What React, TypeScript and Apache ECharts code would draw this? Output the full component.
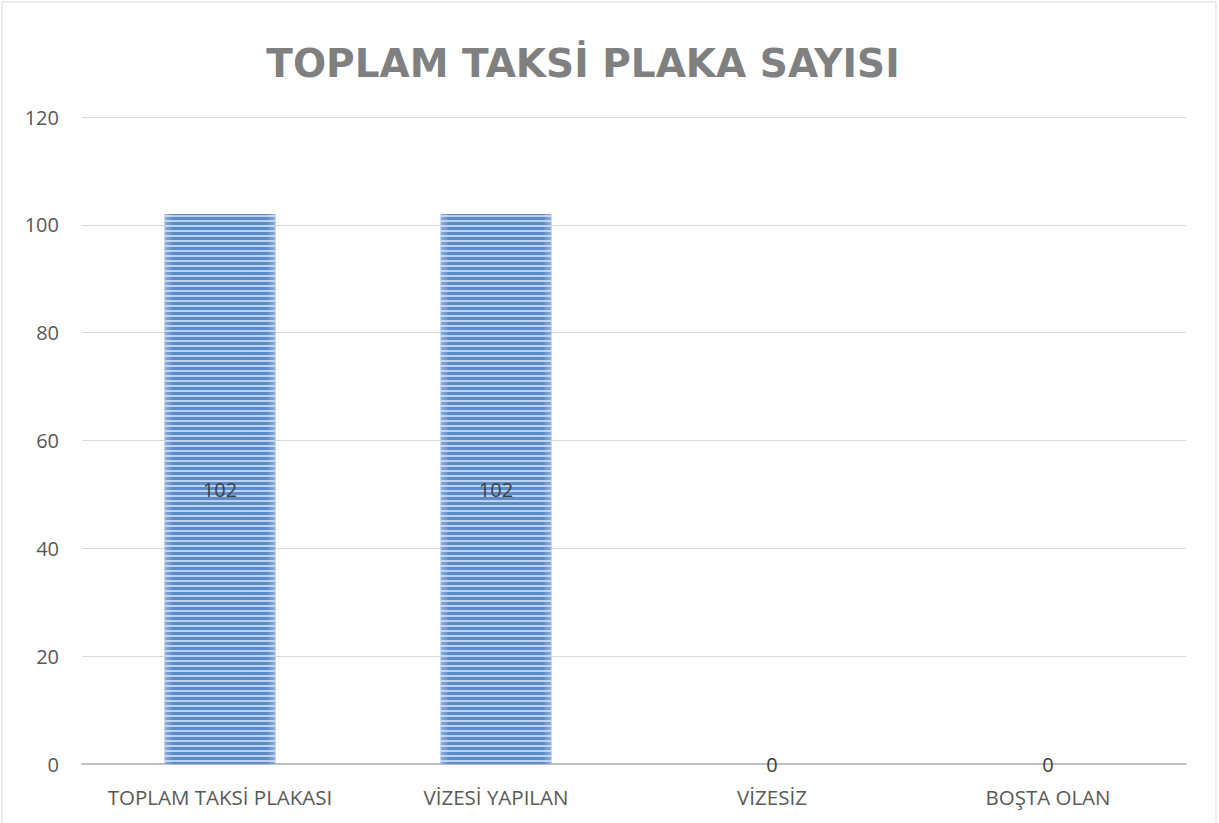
import React, { useEffect, useRef } from "react";
import * as echarts from "echarts";

const categories = ["TOPLAM TAKSİ PLAKASI", "VİZESİ YAPILAN", "VİZESİZ", "BOŞTA OLAN"];
const values = [102, 102, 0, 0];
const yTicks = { min: 0, max: 120, interval: 20 };
const titleText = "TOPLAM TAKSİ PLAKA SAYISI";

export default function App() {
  const ref = useRef<HTMLDivElement>(null);
  useEffect(() => {
    document.body.style.margin = "0";
    const chart = echarts.init(ref.current!, null, { renderer: "svg" });
    chart.setOption({
      animation: false,
      backgroundColor: "#ffffff",
      title: {
        text: titleText,
        left: 578,
        textAlign: "center",
        top: 39,
        textStyle: {
          fontFamily: "DejaVu Sans",
          fontWeight: "bold",
          fontSize: 39,
          color: "#808080",
        },
      },
      graphic: [
        {
          type: "rect",
          shape: { x: 2, y: 2, width: 1214, height: 830 },
          style: { fill: "none", stroke: "#d9d9d9", lineWidth: 1 },
          silent: true,
        },
      ],
      grid: { left: 82, right: 33, top: 117, bottom: 59, containLabel: false },
      xAxis: {
        type: "category",
        data: categories,
        axisLine: { lineStyle: { color: "#bfbfbf", width: 2 } },
        axisTick: { show: false },
        axisLabel: {
          color: "#595959",
          fontFamily: "Open Sans",
          fontSize: 20.5,
          margin: 22,
          interval: 0,
        },
      },
      yAxis: {
        type: "value",
        min: yTicks.min,
        max: yTicks.max,
        interval: yTicks.interval,
        axisLine: { show: false },
        axisTick: { show: false },
        splitLine: { lineStyle: { color: "#d9d9d9", width: 1 } },
        axisLabel: {
          color: "#595959",
          fontFamily: "Open Sans",
          fontSize: 20,
          margin: 23,
        },
      },
      series: [
        {
          type: "bar",
          data: values,
          barWidth: 111,
          itemStyle: {
            color: {
              type: "linear",
              x: 0, y: 0, x2: 1, y2: 0,
              colorStops: [
                { offset: 0, color: "#8fb0dc" },
                { offset: 0.08, color: "#5a8bcb" },
                { offset: 0.92, color: "#5a8bcb" },
                { offset: 1, color: "#8fb0dc" },
              ],
            },
            decal: {
              symbol: "rect",
              symbolSize: 1,
              color: "rgba(215,228,246,0.8)",
              dashArrayX: [1, 0],
              dashArrayY: [2, 3],
              rotation: 0,
            },
          },
          label: {
            show: true,
            position: "inside",
            color: "#404040",
            fontFamily: "Open Sans",
            fontSize: 20,
          },
        },
      ],
    });
    return () => chart.dispose();
  }, []);
  return <div ref={ref} style={{ width: 1219, height: 823 }} />;
}
